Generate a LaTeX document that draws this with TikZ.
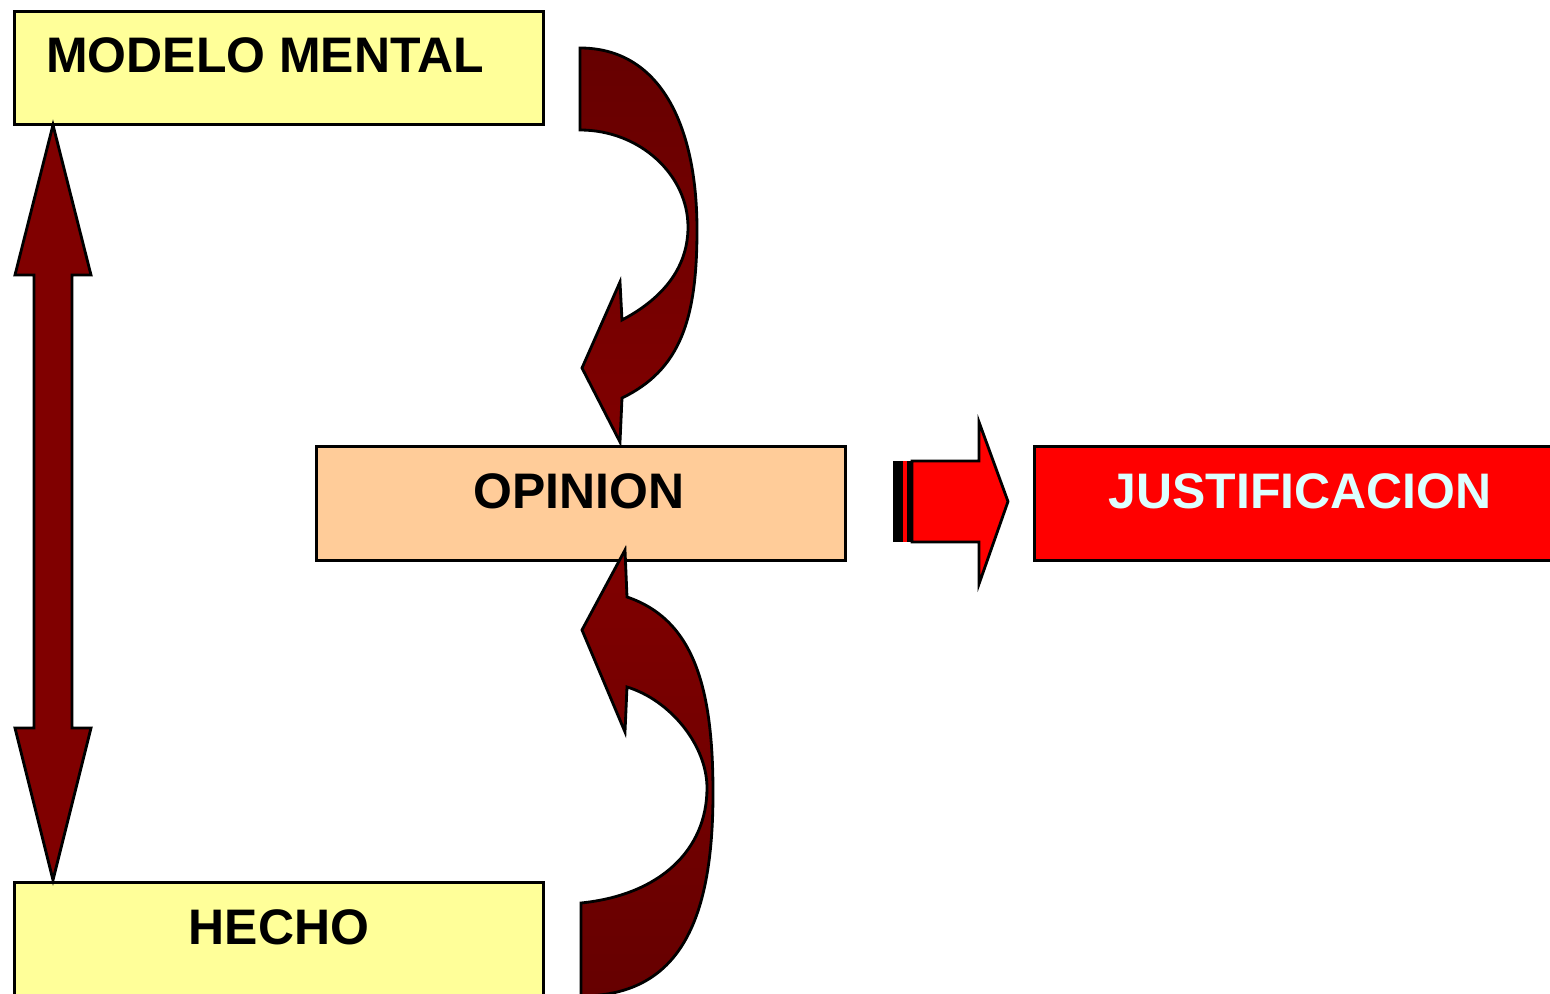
\documentclass[tikz,border=0pt]{standalone}
\usepackage{fontspec}
\setmainfont{Liberation Sans}
\definecolor{paleyellow}{HTML}{FFFF99}
\definecolor{peach}{HTML}{FFCC99}
\definecolor{darkred}{HTML}{800000}
\definecolor{deepred}{HTML}{660000}
\definecolor{lightcyan}{HTML}{DDFFFF}

\begin{document}
\begin{tikzpicture}[x=0.01cm,y=-0.01cm,
    box/.style={draw=black,line width=0.85pt,rectangle,inner sep=0pt},
    lbl/.style={font=\fontsize{14.2pt}{17pt}\selectfont\bfseries,inner sep=0pt},
    blockarrow/.style={draw=black,line width=0.8pt,line join=miter}]
      \useasboundingbox (0,0) rectangle (1550,994);
      \clip (0,0) rectangle (1550,994);
      % boxes
      \node[box,fill=paleyellow,minimum width=5.28cm,minimum height=1.12cm] (modelo) at (279,68) {};
      \node[box,fill=peach,minimum width=5.28cm,minimum height=1.13cm] (opinion) at (581,503.5) {};
      \node[box,fill=red,minimum width=5.3cm,minimum height=1.13cm] (justif) at (1300,503.5) {};
      \node[box,fill=paleyellow,minimum width=5.28cm,minimum height=1.3cm] (hecho) at (279,948) {};
      % texts
      \node[lbl] (modelotxt) at (265,55) {MODELO MENTAL};
      \node[lbl] (opiniontxt) at (579,491.5) {OPINION};
      \node[lbl,text=lightcyan] (justiftxt) at (1300,491.5) {JUSTIFICACION};
      \node[lbl] (hechotxt) at (279,927) {HECHO};
      % double arrow between modelo and hecho
      \draw[blockarrow,fill=darkred] (53,125) -- (91,275) -- (72,275) -- (72,728) -- (91,728)
            -- (53,880) -- (15,728) -- (34,728) -- (34,275) -- (15,275) -- cycle;
      % curved arrow from modelo down to opinion
      \draw[blockarrow,top color=deepred,bottom color=darkred]
            (580,48) .. controls (660,48) and (697,125) .. (697,230)
            .. controls (697,320) and (680,370) .. (622,398)
            -- (620,442) -- (582,368) -- (620,282) -- (622,320)
            .. controls (660,300) and (688,270) .. (688,227)
            .. controls (688,175) and (640,130) .. (580,130) -- cycle;
      % curved arrow from hecho up to opinion
      \draw[blockarrow,top color=darkred,bottom color=deepred]
            (581,996) .. controls (680,996) and (713,920) .. (713,793)
            .. controls (713,690) and (695,620) .. (627,597)
            -- (625,550) -- (582,630) -- (625,732) -- (627,687)
            .. controls (670,700) and (707,745) .. (707,788)
            .. controls (707,850) and (660,895) .. (581,903) -- cycle;
      % striped arrow to justificacion
      \fill[black] (893,461) rectangle (903,542);
      \fill[red] (903,461) rectangle (907,542);
      \fill[black] (907,461) rectangle (912,542);
      \draw[blockarrow,fill=red] (912,461) -- (979,461) -- (979,422) -- (1008,501.5)
            -- (979,584) -- (979,542) -- (912,542) -- cycle;
    \end{tikzpicture}
\end{document}
